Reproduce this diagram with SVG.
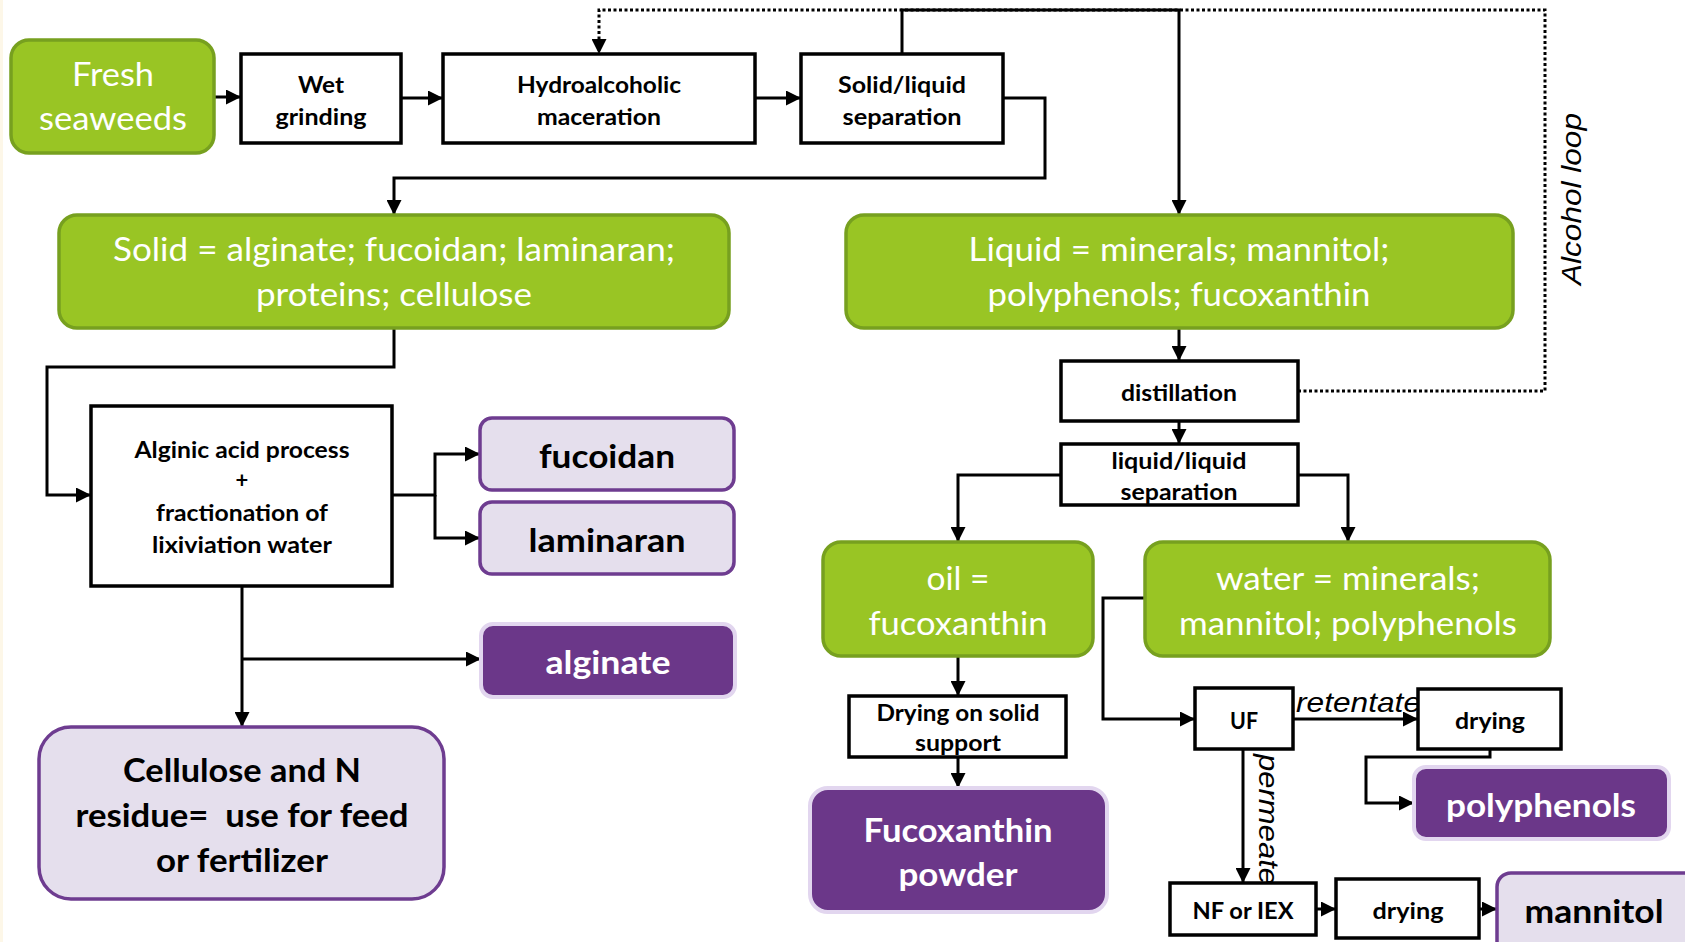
<svg xmlns="http://www.w3.org/2000/svg" width="1685" height="942" viewBox="0 0 1685 942">
<style>
.box{fill:#fff;stroke:#000;stroke-width:3.5}
.green{fill:#99c524;stroke:#77a01f;stroke-width:3.5}
.lav{fill:#e5dfed;stroke:#6e3c90;stroke-width:3.5}
.dark{fill:#6b3789;stroke:#e2d6ef;stroke-width:4}
.conn{fill:none;stroke:#000;stroke-width:3}
.dot{stroke-dasharray:3 2.5}
.tg{font-family:Lato,'Liberation Sans',sans-serif;fill:#fff;font-size:32px;text-anchor:middle}
.tb{font-family:Lato,'Liberation Sans',sans-serif;font-weight:bold;font-size:22px;text-anchor:middle;fill:#000}
.tp{font-family:Lato,'Liberation Sans',sans-serif;font-weight:bold;font-size:32px;text-anchor:middle;fill:#000}
.tw{font-family:Lato,'Liberation Sans',sans-serif;font-weight:bold;font-size:32px;text-anchor:middle;fill:#fff}
.ti{font-family:'Liberation Sans',Arial,sans-serif;font-style:italic;font-size:28px;fill:#000}
</style>
<defs>
<marker id="ah" markerUnits="userSpaceOnUse" markerWidth="15" markerHeight="15" refX="15" refY="7.5" orient="auto">
<path d="M0,0 L15,7.5 L0,15 z" fill="#000"/>
</marker>
</defs>
<rect x="0" y="0" width="1685" height="942" fill="#fff"/>
<rect x="0" y="0" width="3" height="942" fill="#fdf7e8"/>

<g id="connectors">
<path class="conn" d="M215,97 H241" marker-end="url(#ah)"/>
<path class="conn" d="M401,98 H443" marker-end="url(#ah)"/>
<path class="conn" d="M755,98 H801" marker-end="url(#ah)"/>
<path class="conn" d="M1003,98 H1045 V178 H394 V215" marker-end="url(#ah)"/>
<path class="conn dot" d="M1298,391 H1545 V10 H599 V54" marker-end="url(#ah)"/>
<path class="conn" d="M902,54 V10 H1179 V215" marker-end="url(#ah)"/>
<path class="conn" d="M1179,328 V361" marker-end="url(#ah)"/>
<path class="conn" d="M1179,421 V444" marker-end="url(#ah)"/>
<path class="conn" d="M1061,475 H958 V542" marker-end="url(#ah)"/>
<path class="conn" d="M1298,475 H1348 V542" marker-end="url(#ah)"/>
<path class="conn" d="M1145,598 H1103 V719 H1195" marker-end="url(#ah)"/>
<path class="conn" d="M1293,719 H1418" marker-end="url(#ah)"/>
<path class="conn" d="M1490,749 V757 H1366 V803 H1414" marker-end="url(#ah)"/>
<path class="conn" d="M1243,749 V883" marker-end="url(#ah)"/>
<path class="conn" d="M1316,909 H1336" marker-end="url(#ah)"/>
<path class="conn" d="M1479,909 H1497" marker-end="url(#ah)"/>
<path class="conn" d="M958,656 V696" marker-end="url(#ah)"/>
<path class="conn" d="M958,757 V788" marker-end="url(#ah)"/>
<path class="conn" d="M394,328 V367 H47 V495 H91" marker-end="url(#ah)"/>
<path class="conn" d="M392,495 H435 V454 H480" marker-end="url(#ah)"/>
<path class="conn" d="M435,495 V538 H480" marker-end="url(#ah)"/>
<path class="conn" d="M242,586 V727" marker-end="url(#ah)"/>
<path class="conn" d="M242,659 H481" marker-end="url(#ah)"/>
<text class="ti" x="1296" y="712" textLength="125" lengthAdjust="spacingAndGlyphs">retentate</text>
<text class="ti" transform="translate(1259,754) rotate(90)" x="0" y="0" textLength="131" lengthAdjust="spacingAndGlyphs">permeate</text>
<text class="ti" transform="translate(1581,199) rotate(-90)" x="0" y="0" text-anchor="middle" font-size="30" textLength="172" lengthAdjust="spacingAndGlyphs">Alcohol loop</text>
</g>

<g id="fresh">
<rect class="green" x="11" y="40" width="203" height="113" rx="18"/>
<text class="tg" x="113" y="86" textLength="82" lengthAdjust="spacingAndGlyphs">Fresh</text>
<text class="tg" x="113" y="130" textLength="148" lengthAdjust="spacingAndGlyphs">seaweeds</text>
</g>
<g id="wet">
<rect class="box" x="241" y="54" width="160" height="89"/>
<text class="tb" x="321" y="93" textLength="46" lengthAdjust="spacingAndGlyphs">Wet</text>
<text class="tb" x="321" y="125" textLength="91" lengthAdjust="spacingAndGlyphs">grinding</text>
</g>
<g id="hydro">
<rect class="box" x="443" y="54" width="312" height="89"/>
<text class="tb" x="599" y="93" textLength="164" lengthAdjust="spacingAndGlyphs">Hydroalcoholic</text>
<text class="tb" x="599" y="125" textLength="124" lengthAdjust="spacingAndGlyphs">maceration</text>
</g>
<g id="sl">
<rect class="box" x="801" y="54" width="202" height="89"/>
<text class="tb" x="902" y="93" textLength="128" lengthAdjust="spacingAndGlyphs">Solid/liquid</text>
<text class="tb" x="902" y="125" textLength="119" lengthAdjust="spacingAndGlyphs">separation</text>
</g>
<g id="solid">
<rect class="green" x="59" y="215" width="670" height="113" rx="18"/>
<text class="tg" x="394" y="261" textLength="562" lengthAdjust="spacingAndGlyphs">Solid = alginate; fucoidan; laminaran;</text>
<text class="tg" x="394" y="306" textLength="276" lengthAdjust="spacingAndGlyphs">proteins; cellulose</text>
</g>
<g id="liquid">
<rect class="green" x="846" y="215" width="667" height="113" rx="18"/>
<text class="tg" x="1179" y="261" textLength="421" lengthAdjust="spacingAndGlyphs">Liquid = minerals; mannitol;</text>
<text class="tg" x="1179" y="306" textLength="383" lengthAdjust="spacingAndGlyphs">polyphenols; fucoxanthin</text>
</g>
<g id="distillation">
<rect class="box" x="1061" y="361" width="237" height="60"/>
<text class="tb" x="1179" y="401" textLength="116" lengthAdjust="spacingAndGlyphs">distillation</text>
</g>
<g id="llsep">
<rect class="box" x="1061" y="444" width="237" height="61"/>
<text class="tb" x="1179" y="469" textLength="135" lengthAdjust="spacingAndGlyphs">liquid/liquid</text>
<text class="tb" x="1179" y="500" textLength="117" lengthAdjust="spacingAndGlyphs">separation</text>
</g>
<g id="oil">
<rect class="green" x="823" y="542" width="270" height="114" rx="18"/>
<text class="tg" x="958" y="590" textLength="63" lengthAdjust="spacingAndGlyphs">oil =</text>
<text class="tg" x="958" y="635" textLength="179" lengthAdjust="spacingAndGlyphs">fucoxanthin</text>
</g>
<g id="water">
<rect class="green" x="1145" y="542" width="405" height="114" rx="18"/>
<text class="tg" x="1348" y="590" textLength="264" lengthAdjust="spacingAndGlyphs">water = minerals;</text>
<text class="tg" x="1348" y="635" textLength="338" lengthAdjust="spacingAndGlyphs">mannitol; polyphenols</text>
</g>
<g id="alginic">
<rect class="box" x="91" y="406" width="301" height="180"/>
<text class="tb" x="242" y="458" textLength="215" lengthAdjust="spacingAndGlyphs">Alginic acid process</text>
<text class="tb" x="242" y="488">+</text>
<text class="tb" x="242" y="521" textLength="172" lengthAdjust="spacingAndGlyphs">fractionation of</text>
<text class="tb" x="242" y="553" textLength="180" lengthAdjust="spacingAndGlyphs">lixiviation water</text>
</g>
<g id="fucoidan">
<rect class="lav" x="480" y="418" width="254" height="72" rx="12"/>
<text class="tp" x="607" y="468" textLength="136" lengthAdjust="spacingAndGlyphs">fucoidan</text>
</g>
<g id="laminaran">
<rect class="lav" x="480" y="502" width="254" height="72" rx="12"/>
<text class="tp" x="607" y="552" textLength="157" lengthAdjust="spacingAndGlyphs">laminaran</text>
</g>
<g id="alginate">
<rect class="dark" x="481" y="624" width="254" height="73" rx="12"/>
<text class="tw" x="608" y="674" textLength="125" lengthAdjust="spacingAndGlyphs">alginate</text>
</g>
<g id="cellulose">
<rect class="lav" x="39" y="727" width="405" height="172" rx="32"/>
<text class="tp" x="242" y="782" font-size="31" textLength="238" lengthAdjust="spacingAndGlyphs">Cellulose and N</text>
<text class="tp" x="242" y="827" font-size="31" textLength="333" lengthAdjust="spacingAndGlyphs" xml:space="preserve" style="white-space:pre">residue=  use for feed</text>
<text class="tp" x="242" y="872" font-size="31" textLength="172" lengthAdjust="spacingAndGlyphs">or fertilizer</text>
</g>
<g id="dryingsolid">
<rect class="box" x="849" y="696" width="217" height="61"/>
<text class="tb" x="958" y="721" textLength="163" lengthAdjust="spacingAndGlyphs">Drying on solid</text>
<text class="tb" x="958" y="751" textLength="86" lengthAdjust="spacingAndGlyphs">support</text>
</g>
<g id="fucopowder">
<rect class="dark" x="810" y="788" width="297" height="124" rx="18"/>
<text class="tw" x="958" y="842" textLength="189" lengthAdjust="spacingAndGlyphs">Fucoxanthin</text>
<text class="tw" x="958" y="886" textLength="119" lengthAdjust="spacingAndGlyphs">powder</text>
</g>
<g id="uf">
<rect class="box" x="1195" y="688" width="98" height="61"/>
<text class="tb" x="1244" y="729" textLength="28" lengthAdjust="spacingAndGlyphs">UF</text>
</g>
<g id="drying1">
<rect class="box" x="1418" y="689" width="143" height="60"/>
<text class="tb" x="1490" y="729" textLength="70" lengthAdjust="spacingAndGlyphs">drying</text>
</g>
<g id="polyphenols">
<rect class="dark" x="1414" y="767" width="255" height="72" rx="12"/>
<text class="tw" x="1541" y="817" textLength="190" lengthAdjust="spacingAndGlyphs">polyphenols</text>
</g>
<g id="nfiex">
<rect class="box" x="1170" y="883" width="146" height="52"/>
<text class="tb" x="1243" y="919" textLength="101" lengthAdjust="spacingAndGlyphs">NF or IEX</text>
</g>
<g id="drying2">
<rect class="box" x="1336" y="879" width="143" height="59"/>
<text class="tb" x="1408" y="919" textLength="71" lengthAdjust="spacingAndGlyphs">drying</text>
</g>
<g id="mannitol">
<rect class="lav" x="1497" y="873" width="210" height="90" rx="14"/>
<text class="tp" x="1594" y="923" font-size="33" textLength="139" lengthAdjust="spacingAndGlyphs">mannitol</text>
</g>
</svg>
